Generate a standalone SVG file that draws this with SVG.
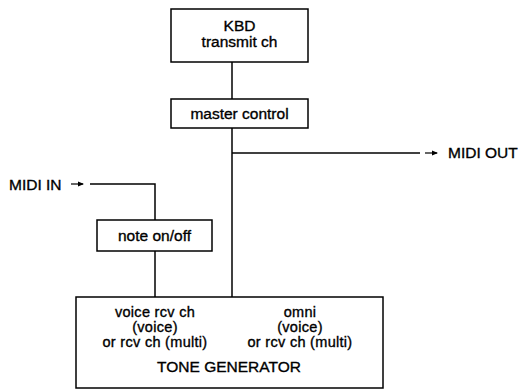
<svg xmlns="http://www.w3.org/2000/svg" width="522" height="391" viewBox="0 0 522 391">
<defs>
<style>
.box{fill:#fff;stroke:#000;stroke-width:1.5}
.ln{fill:none;stroke:#000;stroke-width:1.5}
.t{font-family:"Liberation Sans",Arial,sans-serif;font-size:15.5px;fill:#000;stroke:#000;stroke-width:0.35;text-anchor:middle}
.s{font-size:14.5px;letter-spacing:0.3px}
.l{text-anchor:start}
.ar{fill:none;stroke:#000;stroke-width:1.2}
</style>
<marker id="ah" viewBox="0 0 6 6" refX="5" refY="3" markerWidth="6" markerHeight="6" markerUnits="userSpaceOnUse" orient="auto">
<path d="M0,0.5 L6,3 L0,5.5 Z" fill="#000"/>
</marker>
</defs>
<rect width="522" height="391" fill="#fff"/>
<g id="connectors">
<path class="ln" d="M232,62 V99"/>
<path class="ln" d="M232,128 V297"/>
<path class="ln" d="M232,153 H420"/>
<path class="ln" d="M90,184 H155 V220"/>
<path class="ln" d="M155,251 V297"/>
<path class="ar" d="M425,153 H437" marker-end="url(#ah)"/>
<path class="ar" d="M71,184 H83" marker-end="url(#ah)"/>
</g>
<g id="kbd">
<rect class="box" x="171" y="9" width="137" height="53"/>
<text class="t" x="239.5" y="31">KBD</text>
<text class="t" x="239.5" y="47">transmit ch</text>
</g>
<g id="master">
<rect class="box" x="171" y="99" width="137" height="29"/>
<text class="t" x="239.5" y="119">master control</text>
</g>
<g id="midi-out">
<text class="t l" x="448" y="158">MIDI OUT</text>
</g>
<g id="midi-in">
<text class="t l" x="9" y="190">MIDI IN</text>
</g>
<g id="note">
<rect class="box" x="97" y="220" width="115" height="31"/>
<text class="t" x="154.5" y="241">note on/off</text>
</g>
<g id="tone">
<rect class="box" x="76" y="297" width="307" height="91"/>
<text class="t s" x="155" y="316.5">voice rcv ch</text>
<text class="t s" x="155" y="331.5">(voice)</text>
<text class="t s" x="155" y="346.5">or rcv ch (multi)</text>
<text class="t s" x="300" y="316.5">omni</text>
<text class="t s" x="300" y="331.5">(voice)</text>
<text class="t s" x="300" y="346.5">or rcv ch (multi)</text>
<text class="t" x="229" y="372">TONE GENERATOR</text>
</g>
</svg>
